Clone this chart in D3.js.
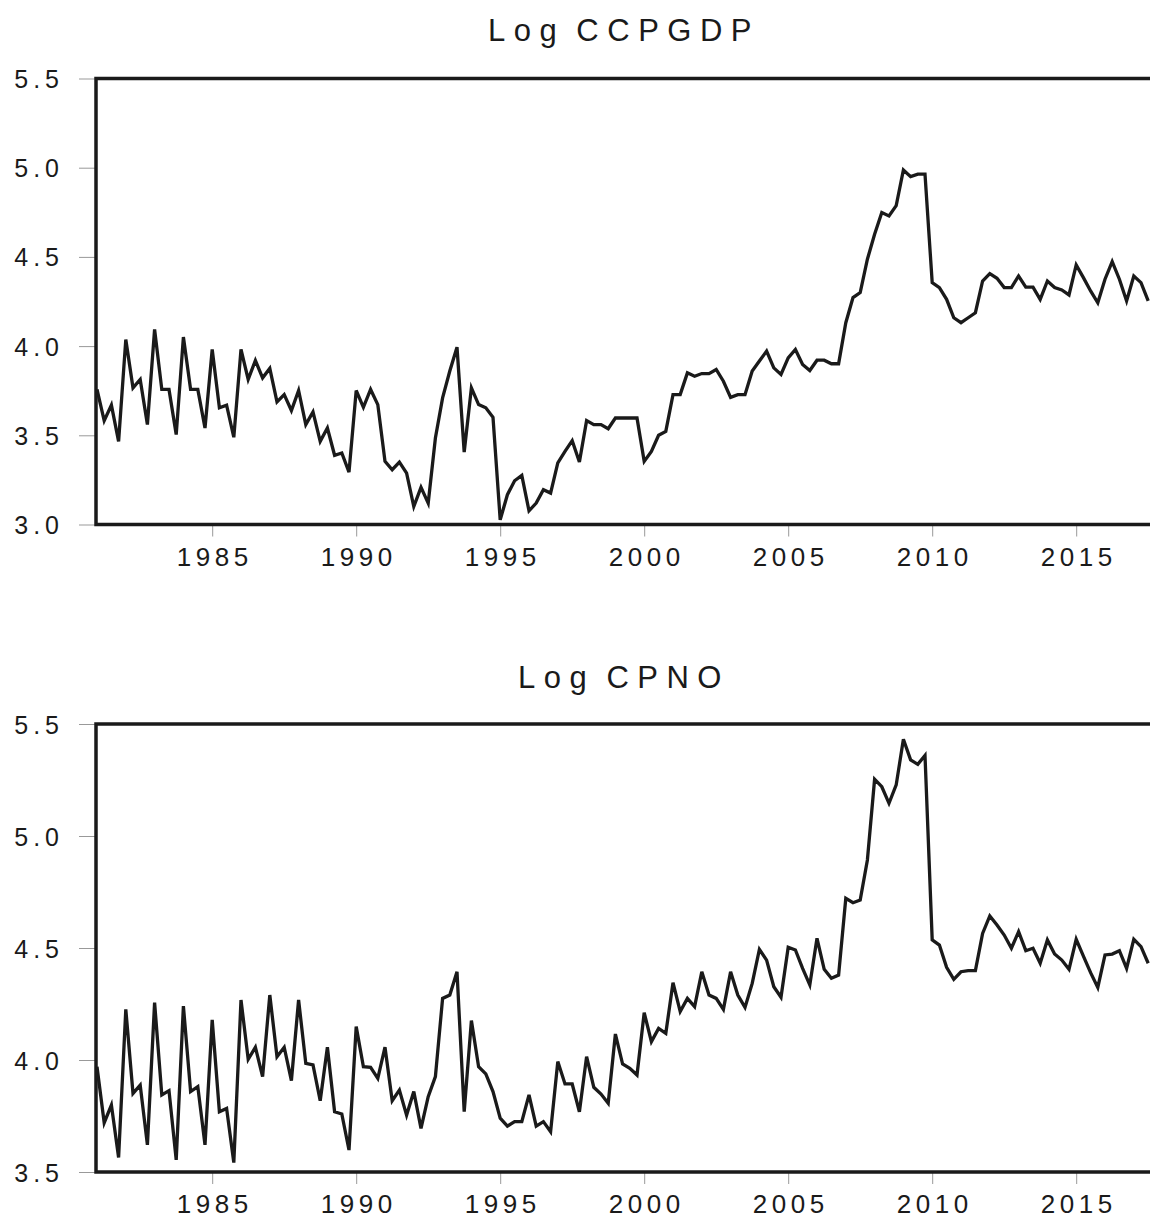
<!DOCTYPE html>
<html>
<head>
<meta charset="utf-8">
<script src="https://cdn.jsdelivr.net/npm/d3@7"></script>
<style>
    body { margin: 0; background: #fff; }
    svg { display: block; font-family: "Liberation Sans", Arial, sans-serif; }
    .tick line { stroke: #999; stroke-width: 1; }
    .tick text { fill: #1a1a1a; }
    .y-axis .tick text { font-size: 25px; letter-spacing: 5px; }
    .x-axis .tick text { font-size: 26px; letter-spacing: 4.5px; }
    .chart-title { fill: #1a1a1a; font-size: 31px; letter-spacing: 8.5px; word-spacing: -6px; text-anchor: middle; }
    .frame { fill: none; stroke: #1a1a1a; stroke-width: 3.5; }
    .series { fill: none; stroke: #1a1a1a; stroke-width: 3.3; stroke-linejoin: miter; }
</style>
</head>
<body>
<div id="chart"></div>
<script>
// quarterly observations, first one is 1981Q1
const startYear = 1981;

const ccpgdp = [
    3.757, 3.582, 3.669, 3.466, 4.037, 3.766, 3.813, 3.560, 4.094, 3.757,
    3.757, 3.504, 4.051, 3.757, 3.757, 3.541, 3.981, 3.654, 3.669, 3.489,
    3.981, 3.813, 3.919, 3.822, 3.875, 3.687, 3.728, 3.639, 3.751, 3.560,
    3.631, 3.466, 3.541, 3.388, 3.401, 3.294, 3.751, 3.657, 3.757, 3.672,
    3.354, 3.307, 3.350, 3.288, 3.101, 3.208, 3.120, 3.485, 3.710, 3.860,
    3.994, 3.406, 3.766, 3.672, 3.654, 3.601, 3.026, 3.167, 3.245, 3.275,
    3.077, 3.120, 3.195, 3.176, 3.345, 3.410, 3.470, 3.350, 3.582, 3.560,
    3.560, 3.537, 3.597, 3.597, 3.597, 3.597, 3.354, 3.410, 3.500, 3.522,
    3.728, 3.728, 3.850, 3.831, 3.846, 3.846, 3.869, 3.803, 3.713, 3.728,
    3.728, 3.860, 3.916, 3.972, 3.878, 3.841, 3.934, 3.981, 3.897, 3.863,
    3.921, 3.921, 3.901, 3.901, 4.131, 4.272, 4.300, 4.487, 4.627, 4.749,
    4.730, 4.787, 4.987, 4.950, 4.964, 4.964, 4.356, 4.328, 4.262, 4.159,
    4.131, 4.159, 4.187, 4.365, 4.406, 4.380, 4.328, 4.328, 4.393, 4.331,
    4.331, 4.262, 4.365, 4.328, 4.315, 4.287, 4.455, 4.384, 4.309, 4.243,
    4.375, 4.474, 4.375, 4.253, 4.393, 4.356, 4.253
];

const cpno = [
    3.970, 3.720, 3.799, 3.565, 4.226, 3.851, 3.888, 3.621, 4.256, 3.844,
    3.863, 3.554, 4.241, 3.859, 3.881, 3.621, 4.179, 3.769, 3.784, 3.542,
    4.268, 4.003, 4.057, 3.926, 4.290, 4.015, 4.057, 3.908, 4.268, 3.985,
    3.978, 3.818, 4.057, 3.769, 3.759, 3.598, 4.149, 3.970, 3.967, 3.918,
    4.057, 3.818, 3.866, 3.754, 3.859, 3.695, 3.836, 3.926, 4.275, 4.290,
    4.394, 3.769, 4.176, 3.970, 3.938, 3.859, 3.740, 3.705, 3.725, 3.725,
    3.844, 3.705, 3.725, 3.680, 3.993, 3.893, 3.893, 3.769, 4.015, 3.878,
    3.848, 3.807, 4.116, 3.982, 3.963, 3.933, 4.211, 4.082, 4.141, 4.119,
    4.345, 4.216, 4.275, 4.238, 4.394, 4.290, 4.275, 4.226, 4.394, 4.290,
    4.235, 4.342, 4.494, 4.446, 4.327, 4.280, 4.503, 4.491, 4.409, 4.335,
    4.543, 4.405, 4.365, 4.379, 4.722, 4.702, 4.714, 4.893, 5.253, 5.220,
    5.146, 5.228, 5.432, 5.340, 5.320, 5.360, 4.536, 4.513, 4.414, 4.360,
    4.394, 4.399, 4.399, 4.565, 4.643, 4.603, 4.558, 4.499, 4.573, 4.488,
    4.499, 4.432, 4.536, 4.473, 4.446, 4.405, 4.539, 4.464, 4.390, 4.324,
    4.469, 4.473, 4.488, 4.409, 4.539, 4.506, 4.432
];

const yearTicks = [1985, 1990, 1995, 2000, 2005, 2010, 2015];
const topTicks = [3.0, 3.5, 4.0, 4.5, 5.0, 5.5];
const bottomTicks = [3.5, 4.0, 4.5, 5.0, 5.5];

const width = 1150,
    height = 1223;

const svg = d3.select('#chart')
    .append('svg')
    .attr('width', width)
    .attr('height', height);

// one shared time scale, the frame runs off the right edge like the original
const left = 97,
    perQuarter = 7.2,
    x = d3.scaleLinear()
        .domain([startYear, startYear + 1])
        .range([left, left + perQuarter * 4]);

function panel(values, title, ticks, box) {
    const y = d3.scaleLinear()
        .domain(d3.extent(ticks))
        .range([box.bottom, box.top]);

    // title
    svg.append('text')
        .classed('chart-title', true)
        .attr('x', 624)
        .attr('y', box.titleY)
        .text(title);

    // y axis, ticks only, the frame is drawn below
    const yAxis = svg.append('g')
        .classed('y-axis', true)
        .attr('transform', `translate(${left - 2},0)`)
        .call(d3.axisLeft(y)
            .tickValues(ticks)
            .tickFormat(d3.format('.1f'))
            .tickSize(16)
            .tickPadding(15));
    yAxis.select('.domain').remove();
    yAxis.selectAll('.tick text').attr('dy', '0.36em');

    // x axis
    const xAxis = svg.append('g')
        .classed('x-axis', true)
        .attr('transform', `translate(0,${box.bottom})`)
        .call(d3.axisBottom(x)
            .tickValues(yearTicks)
            .tickFormat(d3.format('d'))
            .tickSize(12)
            .tickPadding(11));
    xAxis.select('.domain').remove();
    xAxis.selectAll('.tick text').attr('dx', '2px');

    // the series
    const line = d3.line()
        .x((d, i) => x(startYear + i / 4))
        .y(d => y(d));

    svg.append('path')
        .datum(values)
        .classed('series', true)
        .attr('d', line);

    // frame: left, top and bottom, right side is off the page
    svg.append('path')
        .classed('frame', true)
        .attr('d', `M${width + 10},${box.top}H${left - 1}V${box.bottom}H${width + 10}`);
}

panel(ccpgdp, 'Log CCPGDP', topTicks, {top: 78.5, bottom: 524.5, titleY: 41});
panel(cpno, 'Log CPNO', bottomTicks, {top: 724, bottom: 1172, titleY: 688});
</script>
</body>
</html>
